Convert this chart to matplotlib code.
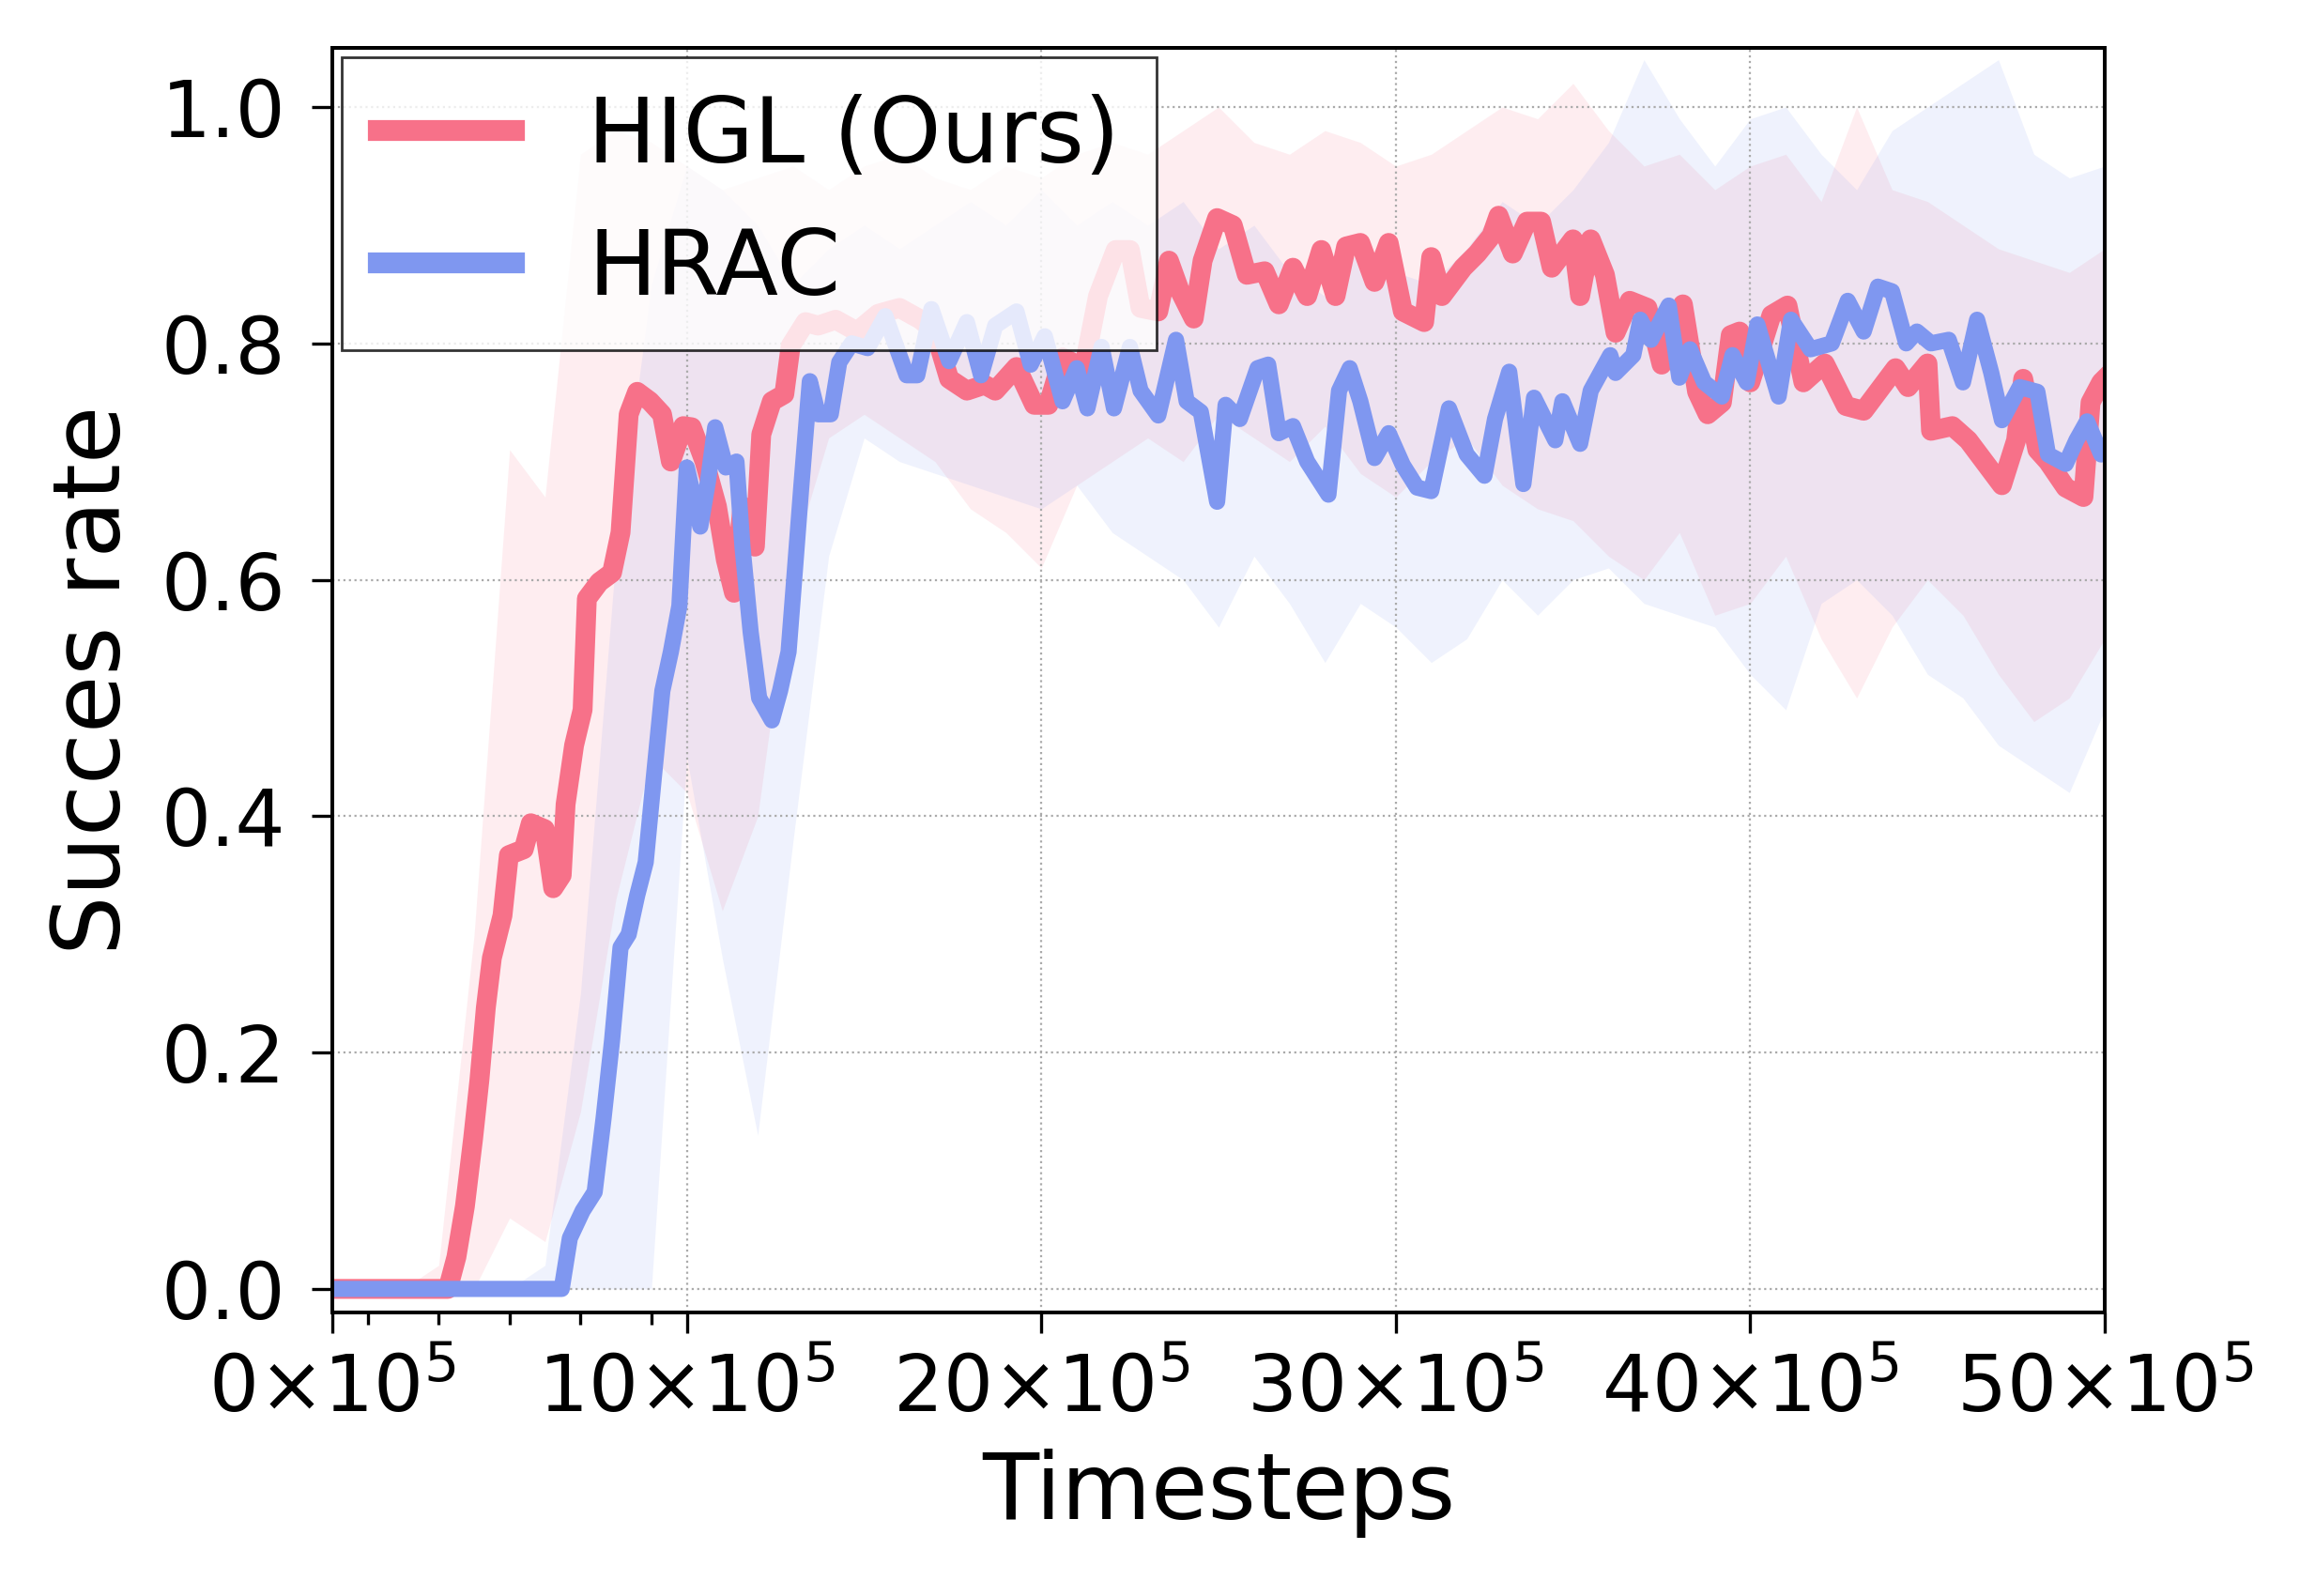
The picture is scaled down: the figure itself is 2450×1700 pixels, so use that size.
import matplotlib
matplotlib.use('Agg')
import matplotlib.pyplot as plt
from matplotlib.ticker import FuncFormatter
import numpy as np

# timesteps are stored in units of 1e5
higl_t = [0, 1, 2, 3, 3.26, 3.5, 3.74, 3.97, 4.15, 4.33, 4.5, 4.8, 4.98, 5.4, 5.6, 5.99,
          6.23, 6.47, 6.58, 6.82, 7.06, 7.18, 7.53, 7.89, 8.13, 8.36, 8.6, 8.96, 9.3, 9.55,
          9.9, 10.14, 10.5, 10.85, 11.1, 11.33, 11.57, 11.92, 12.1, 12.4, 12.75, 12.93, 13.35,
          13.7, 14.2, 14.8, 15.4, 16.0, 16.6, 17.0, 17.4, 17.9, 18.4, 18.7, 19.3, 19.8, 20.2,
          20.6, 21.2, 21.6, 22.1, 22.5, 22.8, 23.3, 23.6, 23.9, 24.3, 24.55, 24.96, 25.4, 25.8,
          26.3, 26.7, 27.1, 27.5, 27.9, 28.3, 28.6, 29.0, 29.4, 29.8, 30.2, 30.8, 31.0, 31.3,
          31.9, 32.3, 32.7, 32.9, 33.3, 33.7, 34.1, 34.4, 35.0, 35.2, 35.5, 35.9, 36.2, 36.6,
          37.1, 37.5, 38.1, 38.5, 38.8, 39.2, 39.45, 39.7, 40.0, 40.6, 41.05, 41.5, 42.1, 42.7,
          43.2, 43.7, 44.1, 44.45, 45.0, 45.1, 45.7, 46.15, 46.6, 47.1, 47.5, 47.7, 48.1, 48.4,
          48.9, 49.4, 49.6, 49.9, 50]
higl_mean = [0, 0, 0, 0, 0.0, 0.027, 0.07, 0.127, 0.177, 0.238, 0.28, 0.316, 0.367, 0.372, 0.394, 0.389,
             0.339, 0.35, 0.41, 0.46, 0.49, 0.584, 0.598, 0.606, 0.64, 0.74, 0.759, 0.751, 0.74, 0.70,
             0.73, 0.729, 0.70, 0.662, 0.617, 0.589, 0.662, 0.628, 0.723, 0.751, 0.757, 0.798, 0.818,
             0.815, 0.82, 0.81, 0.825, 0.83, 0.82, 0.81, 0.77, 0.76, 0.765, 0.76, 0.78, 0.748, 0.748,
             0.788, 0.779, 0.84, 0.879, 0.879, 0.83, 0.827, 0.87, 0.845, 0.821, 0.87, 0.906, 0.90, 0.858,
             0.861, 0.833, 0.864, 0.84, 0.879, 0.84, 0.882, 0.885, 0.852, 0.885, 0.827, 0.818, 0.873, 0.84,
             0.864, 0.876, 0.891, 0.908, 0.876, 0.903, 0.903, 0.864, 0.888, 0.84, 0.888, 0.858, 0.809, 0.836,
             0.83, 0.782, 0.833, 0.759, 0.74, 0.75, 0.807, 0.81, 0.767, 0.824, 0.832, 0.767, 0.783, 0.747,
             0.743, 0.763, 0.779, 0.763, 0.783, 0.726, 0.73, 0.718, 0.70, 0.68, 0.718, 0.77, 0.71, 0.70,
             0.678, 0.67, 0.75, 0.767, 0.77]

hrac_t = [0, 2, 4, 6, 6.47, 6.7, 7.06, 7.4, 7.65, 7.89, 8.13, 8.36, 8.6, 8.84, 9.07, 9.31, 9.55,
          9.79, 9.9, 10.0, 10.38, 10.6, 10.8, 11.1, 11.4, 11.57, 11.8, 12.04, 12.4, 12.63, 12.87,
          13.0, 13.23, 13.47, 13.7, 14.06, 14.3, 14.65, 15.1, 15.6, 16.2, 16.5, 16.9, 17.4, 17.9,
          18.3, 18.7, 19.3, 19.7, 20.1, 20.6, 21.0, 21.3, 21.7, 22.05, 22.5, 22.8, 23.3, 23.8,
          24.1, 24.5, 24.7, 24.96, 25.2, 25.6, 26.1, 26.4, 26.7, 27.1, 27.5, 28.1, 28.4, 28.7,
          29.0, 29.4, 29.8, 30.2, 30.6, 31.0, 31.5, 32.0, 32.5, 32.8, 33.2, 33.6, 33.9, 34.5,
          34.7, 35.2, 35.5, 36.05, 36.2, 36.7, 36.9, 37.2, 37.7, 38.0, 38.3, 38.7, 39.2, 39.5,
          39.9, 40.2, 40.8, 41.15, 41.7, 42.3, 42.75, 43.2, 43.6, 44.0, 44.4, 44.7, 45.1, 45.6,
          46.0, 46.4, 46.8, 47.1, 47.6, 48.1, 48.4, 48.9, 49.2, 49.5, 49.9, 50]
hrac_mean = [0, 0, 0, 0, 0, 0.043, 0.066, 0.082, 0.144, 0.21, 0.289, 0.30, 0.333, 0.361, 0.433, 0.506, 0.539,
             0.578, 0.64, 0.695, 0.645, 0.684, 0.729, 0.695, 0.70, 0.628, 0.556, 0.50, 0.481, 0.506, 0.539,
             0.589, 0.679, 0.768, 0.74, 0.74, 0.784, 0.80, 0.796, 0.823, 0.773, 0.773, 0.829, 0.785, 0.818,
             0.773, 0.815, 0.827, 0.782, 0.806, 0.751, 0.779, 0.745, 0.797, 0.745, 0.797, 0.76, 0.739, 0.803,
             0.751, 0.742, 0.709, 0.666, 0.748, 0.736, 0.779, 0.782, 0.724, 0.73, 0.70, 0.672, 0.76, 0.779,
             0.751, 0.703, 0.724, 0.697, 0.678, 0.675, 0.745, 0.706, 0.688, 0.736, 0.776, 0.681, 0.754, 0.718,
             0.751, 0.715, 0.76, 0.79, 0.775, 0.79, 0.82, 0.803, 0.832, 0.771, 0.795, 0.767, 0.755, 0.79,
             0.767, 0.816, 0.755, 0.82, 0.795, 0.80, 0.836, 0.81, 0.848, 0.844, 0.80, 0.81, 0.80, 0.803,
             0.767, 0.82, 0.775, 0.735, 0.763, 0.759, 0.706, 0.698, 0.718, 0.734, 0.706, 0.71]

# shaded band edges, one value per 1e5 steps
band_t = list(range(0, 51))
higl_low = [0, 0, 0, 0, 0, 0.06, 0.04, 0.15, 0.33, 0.45, 0.42, 0.32, 0.40, 0.62, 0.72, 0.74, 0.72,
            0.70, 0.66, 0.64, 0.61, 0.68, 0.70, 0.72, 0.70, 0.74, 0.72, 0.70, 0.73, 0.69, 0.67, 0.70,
            0.72, 0.68, 0.66, 0.65, 0.62, 0.60, 0.64, 0.57, 0.58, 0.62, 0.55, 0.50, 0.56, 0.60, 0.57,
            0.52, 0.48, 0.50, 0.55]
higl_high = [0, 0, 0, 0.02, 0.30, 0.71, 0.67, 0.96, 0.98, 0.97, 0.95, 0.93, 0.94, 0.95, 0.93, 0.95,
             0.96, 0.94, 0.93, 0.95, 0.94, 0.96, 0.97, 0.96, 0.98, 1.0, 0.97, 0.96, 0.98, 0.97, 0.95,
             0.96, 0.98, 1.0, 0.99, 1.02, 0.98, 0.95, 0.96, 0.93, 0.95, 0.96, 0.92, 1.0, 0.93, 0.92,
             0.90, 0.88, 0.87, 0.86, 0.88]
hrac_low = [0, 0, 0, 0, 0, 0, 0, 0, 0, 0, 0.45, 0.28, 0.13, 0.38, 0.62, 0.72, 0.70, 0.69, 0.68,
            0.67, 0.66, 0.68, 0.64, 0.62, 0.60, 0.56, 0.62, 0.58, 0.53, 0.58, 0.56, 0.53, 0.55, 0.60,
            0.57, 0.60, 0.61, 0.58, 0.57, 0.56, 0.52, 0.49, 0.58, 0.60, 0.57, 0.52, 0.50, 0.46, 0.44,
            0.42, 0.49]
hrac_high = [0, 0, 0, 0, 0, 0, 0.02, 0.25, 0.62, 0.85, 0.95, 0.93, 0.90, 0.85, 0.88, 0.90, 0.88,
             0.90, 0.92, 0.90, 0.93, 0.90, 0.92, 0.90, 0.92, 0.88, 0.90, 0.86, 0.84, 0.88, 0.86, 0.85,
             0.88, 0.92, 0.90, 0.93, 0.97, 1.04, 0.99, 0.95, 0.99, 1.0, 0.96, 0.93, 0.98, 1.0, 1.02,
             1.04, 0.96, 0.94, 0.95]

red = '#F77189'
blue = '#7F97F0'

fig = plt.figure(figsize=(6.125, 4.25), dpi=400)
ax = fig.add_axes([0.1445, 0.1776, 0.7706, 0.7924])

bx = np.array(band_t) * 1e5
ax.fill_between(bx, higl_low, higl_high, color=red, alpha=0.12, lw=0)
ax.fill_between(bx, hrac_low, hrac_high, color=blue, alpha=0.12, lw=0)
ax.plot(np.array(higl_t) * 1e5, higl_mean, color=red, lw=3.8, label='HIGL (Ours)')
ax.plot(np.array(hrac_t) * 1e5, hrac_mean, color=blue, lw=3.1, label='HRAC')

ax.set_xlim(0, 5e6)
ax.set_ylim(-0.02, 1.05)
ax.set_xticks(np.arange(0, 51, 10) * 1e5)
ax.set_xticks(np.array([1, 3, 5, 7, 9]) * 1e5, minor=True)
ax.set_yticks([0, 0.2, 0.4, 0.6, 0.8, 1.0])
ax.xaxis.set_major_formatter(FuncFormatter(lambda x, p: r'$%d{\times}10^{5}$' % round(x / 1e5)))
ax.tick_params(which='major', labelsize=15, length=4, width=0.6, pad=5)
ax.tick_params(axis='x', which='major', pad=3.5)
ax.tick_params(which='minor', length=2.3, width=0.6)
for s in ax.spines.values():
    s.set_linewidth(0.72)

ax.grid(True, which='major', ls=':', lw=0.4, color='#aaaaaa')
ax.set_xlabel('Timesteps', fontsize=17.7)
ax.set_ylabel('Succes rate', fontsize=18)

leg = ax.legend(loc='upper left', fontsize=17.5, fancybox=False, edgecolor='black',
                borderaxespad=0.1, handlelength=1.5, labelspacing=0.5)
leg.get_frame().set_linewidth(0.5)
for l in leg.get_lines():
    l.set_linewidth(4)

fig.savefig('out.png', dpi=400)
